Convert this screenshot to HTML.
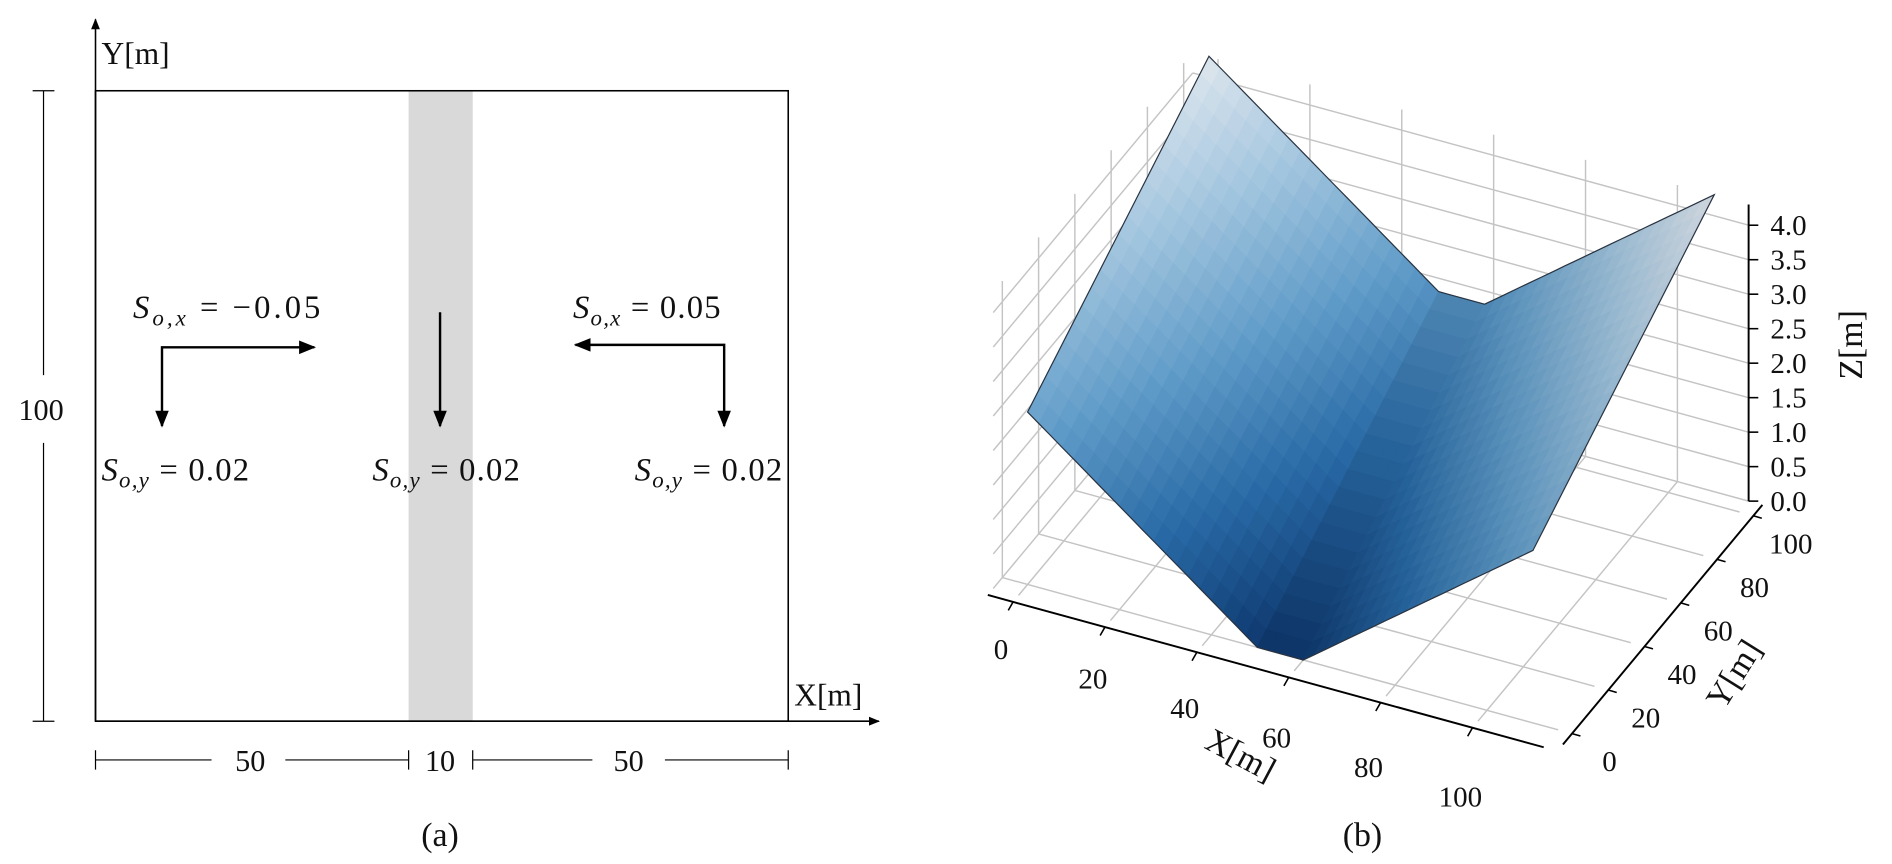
<!DOCTYPE html>
<html><head><meta charset="utf-8"><style>
html,body{margin:0;padding:0;background:#fff;}
svg{display:block;}
text{font-family:"Liberation Serif",serif;fill:#111;}
</style></head><body>
<svg id="fig" width="1892" height="864" viewBox="0 0 1565 714" preserveAspectRatio="none" xmlns="http://www.w3.org/2000/svg">
<defs>
<marker id="ah" viewBox="0 0 10 10" refX="9" refY="5" markerWidth="7" markerHeight="7" orient="auto-start-reverse"><path d="M0,1 L10,5 L0,9 z" fill="#000"/></marker>
</defs>
<g>
<rect x="338" y="75" width="53" height="521" fill="#d9d9d9"/>
<rect x="79" y="75" width="573" height="521" fill="none" stroke="#000" stroke-width="1.3"/>
<line x1="79" y1="596" x2="79" y2="16" stroke="#000" stroke-width="1.3" marker-end="url(#ah)"/>
<line x1="79" y1="596" x2="727" y2="596" stroke="#000" stroke-width="1.3" marker-end="url(#ah)"/>
<text x="84" y="53" font-size="26">Y[m]</text>
<text x="657" y="583" font-size="26">X[m]</text>
<g stroke="#000" stroke-width="1">
<line x1="36" y1="75" x2="36" y2="310"/><line x1="36" y1="366" x2="36" y2="596"/>
<line x1="27" y1="75" x2="45" y2="75"/><line x1="27" y1="596" x2="45" y2="596"/>
</g>
<text x="34" y="347" font-size="25" text-anchor="middle">100</text>
<g stroke="#000" stroke-width="1">
<line x1="79" y1="628" x2="175" y2="628"/><line x1="236" y1="628" x2="338" y2="628"/>
<line x1="391" y1="628" x2="490" y2="628"/><line x1="550" y1="628" x2="652" y2="628"/>
<line x1="79" y1="620" x2="79" y2="636"/><line x1="338" y1="620" x2="338" y2="636"/>
<line x1="391" y1="620" x2="391" y2="636"/><line x1="652" y1="620" x2="652" y2="636"/>
</g>
<text x="207" y="637" font-size="25" text-anchor="middle">50</text>
<text x="364" y="637" font-size="25" text-anchor="middle">10</text>
<text x="520" y="637" font-size="25" text-anchor="middle">50</text>
<g stroke="#000" stroke-width="2" fill="none">
<polyline points="134,352 134,287 260,287" marker-start="url(#ah)" marker-end="url(#ah)"/>
<line x1="364" y1="258" x2="364" y2="352" marker-end="url(#ah)"/>
<polyline points="476,285 599,285 599,352" marker-start="url(#ah)" marker-end="url(#ah)"/>
</g>
<text x="110" y="263" font-size="27" textLength="155" lengthAdjust="spacing"><tspan font-style="italic">S</tspan><tspan font-style="italic" font-size="19" dy="6">o,x</tspan><tspan dy="-6"> = −0.05</tspan></text>
<text x="474" y="263" font-size="27" textLength="122" lengthAdjust="spacing"><tspan font-style="italic">S</tspan><tspan font-style="italic" font-size="19" dy="6">o,x</tspan><tspan dy="-6"> = 0.05</tspan></text>
<text x="84" y="397" font-size="27" textLength="122" lengthAdjust="spacing"><tspan font-style="italic">S</tspan><tspan font-style="italic" font-size="19" dy="6">o,y</tspan><tspan dy="-6"> = 0.02</tspan></text>
<text x="308" y="397" font-size="27" textLength="122" lengthAdjust="spacing"><tspan font-style="italic">S</tspan><tspan font-style="italic" font-size="19" dy="6">o,y</tspan><tspan dy="-6"> = 0.02</tspan></text>
<text x="525" y="397" font-size="27" textLength="122" lengthAdjust="spacing"><tspan font-style="italic">S</tspan><tspan font-style="italic" font-size="19" dy="6">o,y</tspan><tspan dy="-6"> = 0.02</tspan></text>
<text x="364" y="699" font-size="28" text-anchor="middle">(a)</text>
</g>
<g id="p3d"></g>
<text x="1127" y="699" font-size="28" text-anchor="middle">(b)</text>
</svg>
<script>
const xBreaks = [0, 50, 60, 110];
const bedZ = [2.5, 0, 0, 2.5];
const yStops = [0, 100];
const yRise = [0, 2];
const xTicks = [0, 20, 40, 60, 80, 100];
const yTicks = [0, 20, 40, 60, 80, 100];
const zTicks = [0, 0.5, 1.0, 1.5, 2.0, 2.5, 3.0, 3.5, 4.0];
const zTickLabels = ["0.0","0.5","1.0","1.5","2.0","2.5","3.0","3.5","4.0"];
const xLim = [-5.5, 115.5], yLim = [-5, 105], zLim = [0, 4.3];

const NS = "http://www.w3.org/2000/svg";
const g = document.getElementById('p3d');
function proj(x, y, z) { return [850 + 3.8 * x + 1.5 * y, 483 + 1.04 * x - 1.8 * y - 57 * z]; }
function interp(xs, vs, v) {
  for (let i = 0; i < xs.length - 1; i++) {
    if (v <= xs[i + 1] || i === xs.length - 2) {
      const t = (v - xs[i]) / (xs[i + 1] - xs[i]);
      return vs[i] + t * (vs[i + 1] - vs[i]);
    }
  }
}
function zAt(x, y) { return interp(xBreaks, bedZ, x) + interp(yStops, yRise, y); }
function line(a, b, stroke, w, name) {
  const l = document.createElementNS(NS, 'line');
  l.setAttribute('x1', a[0]); l.setAttribute('y1', a[1]);
  l.setAttribute('x2', b[0]); l.setAttribute('y2', b[1]);
  l.setAttribute('stroke', stroke); l.setAttribute('stroke-width', w);
  
  
  g.appendChild(l); return l;
}
function text(p, s, size, name, anchor, rot) {
  const t = document.createElementNS(NS, 'text');
  t.setAttribute('x', p[0]); t.setAttribute('y', p[1]);
  t.setAttribute('font-size', size);
  t.setAttribute('text-anchor', anchor || 'middle');
  if (rot) t.setAttribute('transform', 'rotate(' + rot + ' ' + p[0] + ' ' + p[1] + ')');
  t.textContent = s;
  
  
  g.appendChild(t); return t;
}
const GC = '#c4c4c4';
xTicks.forEach(x => line(proj(x, yLim[0], zLim[0]), proj(x, yLim[1], zLim[0]), GC, 1.2, 'floor-gridline'));
yTicks.forEach(y => line(proj(xLim[0], y, zLim[0]), proj(xLim[1], y, zLim[0]), GC, 1.2, 'floor-gridline'));
yTicks.forEach(y => line(proj(xLim[0], y, zLim[0]), proj(xLim[0], y, zLim[1]), GC, 1.2, 'left-wall-gridline'));
zTicks.forEach(z => line(proj(xLim[0], yLim[0], z), proj(xLim[0], yLim[1], z), GC, 1.2, 'left-wall-gridline'));
xTicks.forEach(x => line(proj(x, yLim[1], zLim[0]), proj(x, yLim[1], zLim[1]), GC, 1.2, 'back-wall-gridline'));
zTicks.forEach(z => line(proj(xLim[0], yLim[1], z), proj(xLim[1], yLim[1], z), GC, 1.2, 'back-wall-gridline'));

const cmap = [[14,56,110],[40,105,165],[95,155,200],[160,196,222],[222,230,238]];
function color(z, shade) {
  let t = Math.max(0, Math.min(1, z / 4.5)) * (cmap.length - 1);
  const i = Math.min(cmap.length - 2, Math.floor(t)); const f = t - i;
  const c = cmap[i].map((v, k) => Math.round((v + f * (cmap[i + 1][k] - v)) * shade));
  return 'rgb(' + c.join(',') + ')';
}
const xs = []; for (let x = 0; x <= 110; x += 2.5) xs.push(x);
const ys = []; for (let y = 0; y <= 100; y += 5) ys.push(y);
for (let j = ys.length - 2; j >= 0; j--) {
  for (let i = 0; i < xs.length - 1; i++) {
    const x0 = xs[i], x1 = xs[i + 1], y0 = ys[j], y1 = ys[j + 1];
    const pts = [proj(x0, y0, zAt(x0, y0)), proj(x1, y0, zAt(x1, y0)), proj(x1, y1, zAt(x1, y1)), proj(x0, y1, zAt(x0, y1))];
    const zm = zAt((x0 + x1) / 2, (y0 + y1) / 2);
    const xm = (x0 + x1) / 2;
    const shade = xm < 50 ? 1.0 : (xm < 60 ? 0.93 : 0.93);
    const c = color(zm, shade);
    const p = document.createElementNS(NS, 'polygon');
    p.setAttribute('points', pts.map(q => q[0].toFixed(1) + ',' + q[1].toFixed(1)).join(' '));
    p.setAttribute('fill', c); p.setAttribute('stroke', c); p.setAttribute('stroke-width', '0.7');
    
    
    g.appendChild(p);
  }
}
const outline = [];
xs.forEach(x => outline.push(proj(x, 0, zAt(x, 0))));
xs.slice().reverse().forEach(x => outline.push(proj(x, 100, zAt(x, 100))));
const ol = document.createElementNS(NS, 'polygon');
ol.setAttribute('points', outline.map(q => q[0].toFixed(1) + ',' + q[1].toFixed(1)).join(' '));
ol.setAttribute('fill', 'none'); ol.setAttribute('stroke', '#2a3340'); ol.setAttribute('stroke-width', '1');


g.appendChild(ol);

line(proj(xLim[0], yLim[0] - 3, zLim[0]), proj(xLim[1], yLim[0] - 3, zLim[0]), '#000', 1.6, 'x-axis-line');
line(proj(xLim[1] + 3, yLim[0], zLim[0]), proj(xLim[1] + 3, yLim[1], zLim[0]), '#000', 1.6, 'y-axis-line');
line(proj(xLim[1], yLim[1], zLim[0]), proj(xLim[1], yLim[1], zLim[1]), '#000', 1.6, 'z-axis-line');
xTicks.forEach(x => {
  const a = proj(x, yLim[0] - 3, 0);
  line(a, [a[0] - 4, a[1] + 7], '#000', 1.3, 'x-tick');
  text([a[0] - 10, a[1] + 47 + 0.18 * x], String(x), 24, 'x-tick-label');
});
yTicks.forEach(y => {
  const a = proj(xLim[1] + 3, y, 0);
  line(a, [a[0] + 7, a[1] + 2], '#000', 1.3, 'y-tick');
  text([a[0] + 31, a[1] + 31], String(y), 24, 'y-tick-label');
});
zTicks.forEach((z, i) => {
  const a = proj(xLim[1], yLim[1], z);
  line(a, [a[0] + 8, a[1]], '#000', 1.3, 'z-tick');
  text([a[0] + 18, a[1] + 8], zTickLabels[i], 24, 'z-tick-label', 'start');
});
text([1022, 632], 'X[m]', 28, 'x-axis-title-b', 'middle', 28);
text([1442, 562], 'Y[m]', 28, 'y-axis-title-b', 'middle', -58);
text([1540, 285], 'Z[m]', 28, 'z-axis-title-b', 'middle', -90);
</script>
</body></html>
